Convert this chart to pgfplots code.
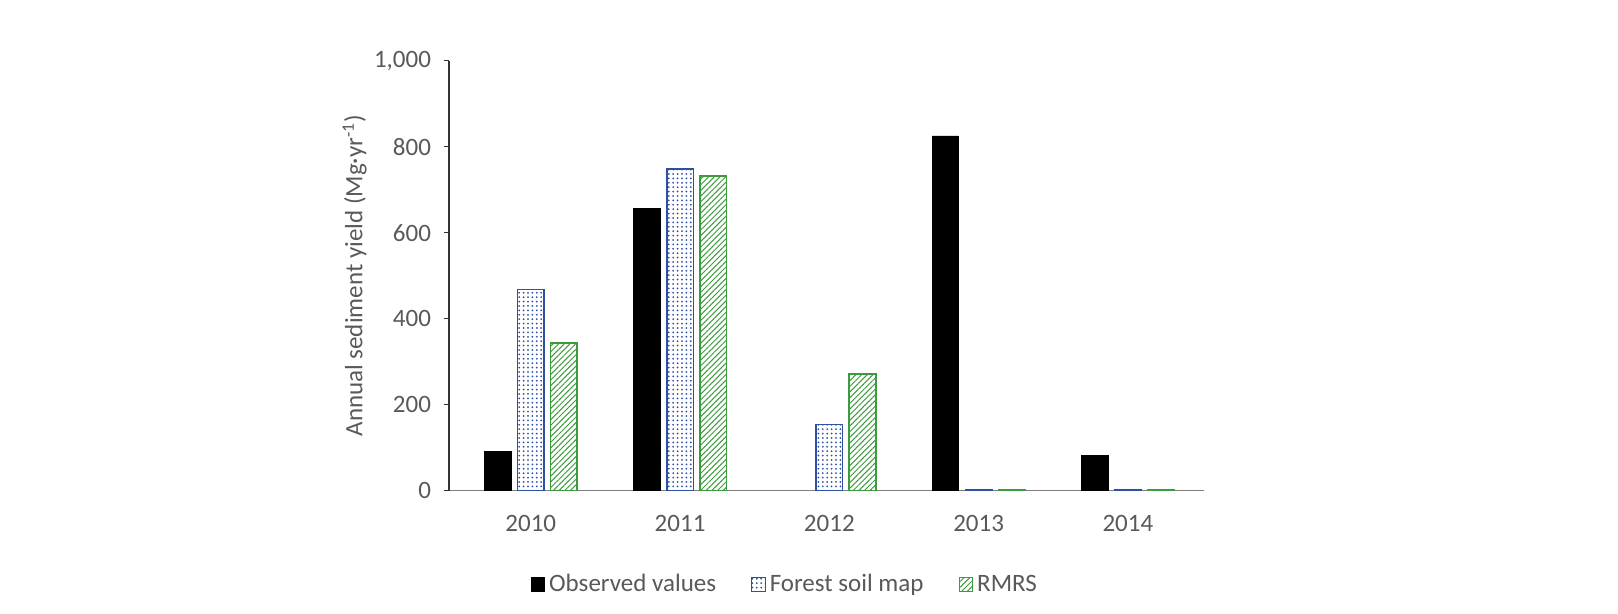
\documentclass[border=0pt]{standalone}
\usepackage{fontspec}
\setmainfont{Carlito}
\usepackage{pgfplots}
\pgfplotsset{compat=1.18}
\usetikzlibrary{patterns.meta}
\definecolor{txtgray}{HTML}{595959}
\definecolor{axgray}{HTML}{7F7F7F}
\definecolor{fsblue}{HTML}{2F4FA2}
\definecolor{rmgreen}{HTML}{3C9B3C}

\begin{document}
\begin{tikzpicture}
\path[use as bounding box] (0,0) rectangle (809pt,307pt);
\begin{axis}[
    at={(224.5pt,61.65pt)}, anchor=south west,
    scale only axis,
    width=377.5pt, height=215pt,
    xmin=-0.548, xmax=4.51,
    ymin=0, ymax=1000,
    ybar, bar width=0.1775,
    axis x line*=bottom, axis y line*=left,
    x axis line style={axgray, line width=0.6pt},
    y axis line style={black!80, line width=0.6pt},
    xtick={0,1,2,3,4},
    xticklabels={2010,2011,2012,2013,2014},
    xtick style={draw=none},
    ytick={0,200,400,600,800,1000},
    tick align=outside,
    major tick length=2.5pt,
    ytick style={black!80, line width=0.6pt},
    /pgf/number format/assume math mode=true,
    /pgf/number format/1000 sep={,},
    tick label style={font=\fontsize{12.5}{14}\selectfont, text=txtgray},
    xticklabel style={yshift=-6.5pt},
    yticklabel style={xshift=-3pt},
    ylabel={Annual sediment yield (Mg·yr\textsuperscript{-1})},
    ylabel style={font=\fontsize{12.5}{14}\selectfont, text=txtgray, at={(axis description cs:-0.125,0.5)}, anchor=center},
    legend style={at={(0.446,-0.218)}, anchor=center, draw=none,
        legend columns=3, font=\fontsize{12.5}{14}\selectfont, text=txtgray,
        /tikz/every even column/.append style={column sep=15.5pt}},
    legend image code/.code={\draw[#1, line width=0.5pt] (0pt,-3.4pt) rectangle (6.8pt,3.4pt);},
]
\addplot[bar shift=-0.222, fill=black, draw=black] coordinates {(0,91) (1,657) (3,825) (4,81)};
\addplot[bar shift=0, draw=fsblue, line width=0.8pt, pattern={Dots[distance=2.2pt, radius=0.5pt]}, pattern color=fsblue] coordinates {(0,468) (1,748) (2,154) (3,2) (4,2)};
\addplot[bar shift=0.222, draw=rmgreen, line width=0.8pt, pattern={Lines[angle=45, distance=2pt, line width=0.5pt]}, pattern color=rmgreen] coordinates {(0,344) (1,732) (2,272) (3,2) (4,2)};
\legend{Observed values, Forest soil map, RMRS}
\end{axis}
\end{tikzpicture}
\end{document}
